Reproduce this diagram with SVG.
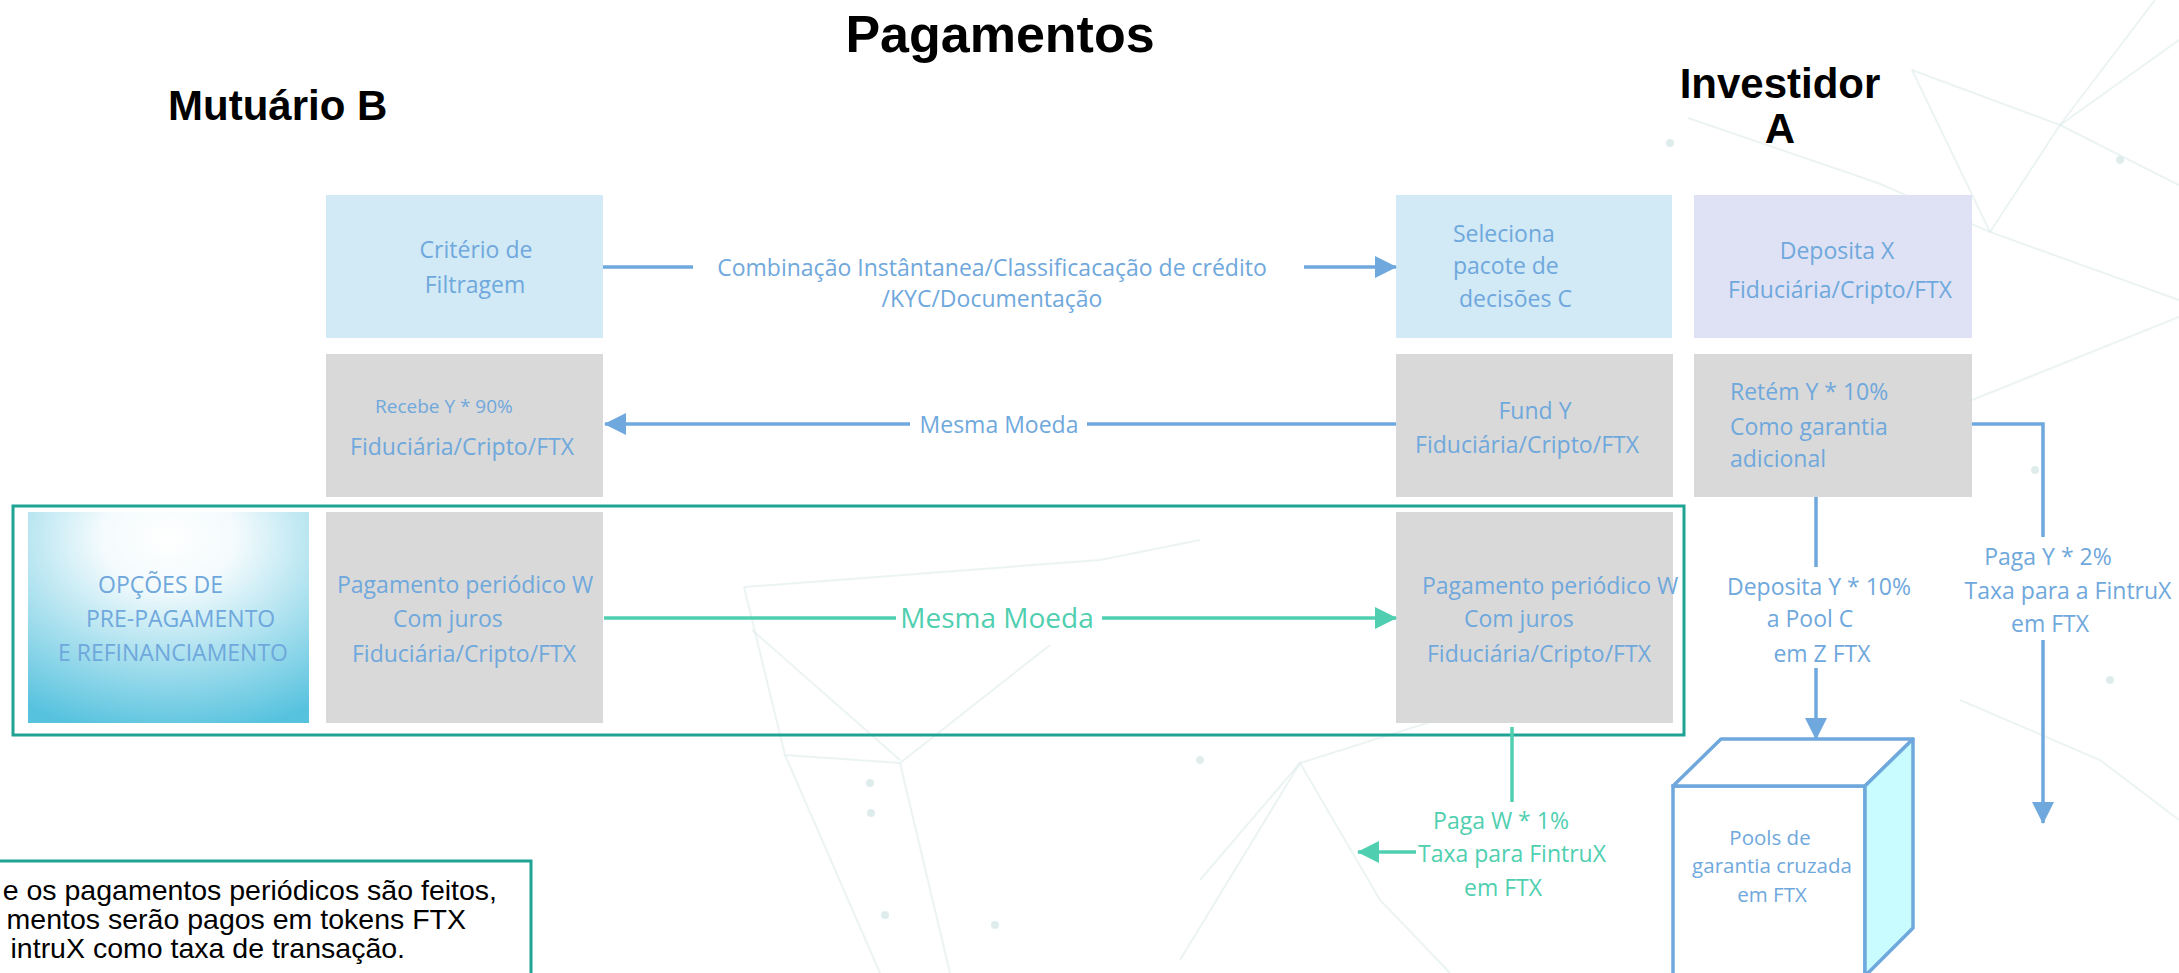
<svg xmlns="http://www.w3.org/2000/svg" width="2179" height="973" viewBox="0 0 2179 973">
<style>
  .ttl{font-family:"Liberation Sans",Arial,sans-serif;font-weight:bold;fill:#000}
  .t{font-family:"Open Sans","Noto Sans",sans-serif;font-size:23px;fill:#6FA8DC}
  .tg{font-family:"Open Sans","Noto Sans",sans-serif;font-size:23px;fill:#4FCFB0}
  .sm{font-size:19px}
  .pool{font-size:20.5px}
  .big{font-size:28px}
  .m{text-anchor:middle}
  .bl{stroke:#6FA8DC;stroke-width:3.5;fill:none}
  .tl{stroke:#4FCFB0;stroke-width:3.5;fill:none}
  .bgl{stroke:#DCEAEA;stroke-width:2;fill:none;opacity:.55}
  .dot{fill:#D2E4E4;opacity:.7}
  .lbg{fill:#FFFFFF}
  .note{font-family:"Liberation Sans",Arial,sans-serif;font-size:28.5px;fill:#000;text-anchor:end}
</style>
<defs>
  <marker id="ab" markerUnits="userSpaceOnUse" markerWidth="22" markerHeight="22" refX="21" refY="11" orient="auto">
    <path d="M0,0 L22,11 L0,22 Z" fill="#6FA8DC"/>
  </marker>
  <marker id="at" markerUnits="userSpaceOnUse" markerWidth="22" markerHeight="22" refX="21" refY="11" orient="auto">
    <path d="M0,0 L22,11 L0,22 Z" fill="#4FCFB0"/>
  </marker>
  <radialGradient id="gOp" cx="0.5" cy="0.12" r="0.95">
    <stop offset="0" stop-color="#FFFFFF"/>
    <stop offset="0.25" stop-color="#F4FBFD"/>
    <stop offset="1" stop-color="#56C2DE"/>
  </radialGradient>
</defs>
<rect width="2179" height="973" fill="#FFFFFF"/>

<g id="background">
  <polyline class="bgl" points="1912,70 2060,125 2179,185"/>
  <polyline class="bgl" points="1912,70 1990,232 2179,300"/>
  <polyline class="bgl" points="1990,232 2060,125 2155,0"/>
  <polyline class="bgl" points="2060,125 2179,40"/>
  <polyline class="bgl" points="1688,118 1878,183 1990,232"/>
  <polyline class="bgl" points="1972,400 2179,317"/>
  <polyline class="bgl" points="744,587 1100,560 1200,540"/>
  <polyline class="bgl" points="744,587 785,755 900,763 1050,645"/>
  <polyline class="bgl" points="752,630 900,760"/>
  <polyline class="bgl" points="785,755 880,973"/>
  <polyline class="bgl" points="900,763 950,973"/>
  <polyline class="bgl" points="1200,880 1300,763 1380,900 1450,973"/>
  <polyline class="bgl" points="1180,960 1300,763 1500,700"/>
  <polyline class="bgl" points="1960,700 2100,760 2179,820"/>
  <circle class="dot" cx="870" cy="783" r="4"/>
  <circle class="dot" cx="871" cy="813" r="4"/>
  <circle class="dot" cx="885" cy="915" r="4"/>
  <circle class="dot" cx="995" cy="925" r="4"/>
  <circle class="dot" cx="1670" cy="143" r="4"/>
  <circle class="dot" cx="2120" cy="160" r="4"/>
  <circle class="dot" cx="2035" cy="470" r="4"/>
  <circle class="dot" cx="2110" cy="680" r="4"/>
  <circle class="dot" cx="1200" cy="760" r="4"/>
</g>

<g id="titles">
  <text class="ttl m" x="1000" y="52" font-size="52">Pagamentos</text>
  <text class="ttl" x="168" y="120" font-size="42">Mutuário B</text>
  <text class="ttl m" x="1780" y="98" font-size="42">Investidor</text>
  <text class="ttl m" x="1780" y="143" font-size="42">A</text>
</g>

<g id="frame">
  <rect x="13" y="506" width="1671" height="229" fill="none" stroke="#1FA394" stroke-width="3"/>
</g>

<g id="node-criterio">
  <rect x="326" y="195" width="277" height="143" fill="#D2E9F6"/>
  <text class="t m" x="476" y="258">Critério de</text>
  <text class="t m" x="475" y="293">Filtragem</text>
</g>
<g id="node-recebe">
  <rect x="326" y="354" width="277" height="143" fill="#D9D9D9"/>
  <text class="t sm" x="375" y="413">Recebe Y * 90%</text>
  <text class="t m" x="462" y="455">Fiduciária/Cripto/FTX</text>
</g>
<g id="node-opcoes">
  <rect x="28" y="512" width="281" height="211" fill="url(#gOp)"/>
  <text class="t" x="98" y="593">OPÇÕES DE</text>
  <text class="t" x="86" y="627">PRE-PAGAMENTO</text>
  <text class="t" x="58" y="661">E REFINANCIAMENTO</text>
</g>
<g id="node-pag-b">
  <rect x="326" y="512" width="277" height="211" fill="#D9D9D9"/>
  <text class="t" x="337" y="593">Pagamento periódico W</text>
  <text class="t" x="393" y="627">Com juros</text>
  <text class="t" x="352" y="662">Fiduciária/Cripto/FTX</text>
</g>
<g id="node-seleciona">
  <rect x="1396" y="195" width="276" height="143" fill="#D2E9F6"/>
  <text class="t" x="1453" y="242">Seleciona</text>
  <text class="t" x="1453" y="274">pacote de</text>
  <text class="t" x="1459" y="307">decisões C</text>
</g>
<g id="node-deposita">
  <rect x="1694" y="195" width="278" height="143" fill="#DEE2F4"/>
  <text class="t m" x="1837" y="259">Deposita X</text>
  <text class="t m" x="1840" y="298">Fiduciária/Cripto/FTX</text>
</g>
<g id="node-fund">
  <rect x="1396" y="354" width="277" height="143" fill="#D9D9D9"/>
  <text class="t m" x="1535" y="419">Fund Y</text>
  <text class="t m" x="1527" y="453">Fiduciária/Cripto/FTX</text>
</g>
<g id="node-retem">
  <rect x="1694" y="354" width="278" height="143" fill="#D9D9D9"/>
  <text class="t" x="1730" y="400">Retém Y * 10%</text>
  <text class="t" x="1730" y="435">Como garantia</text>
  <text class="t" x="1730" y="467">adicional</text>
</g>
<g id="node-pag-a">
  <rect x="1396" y="512" width="277" height="211" fill="#D9D9D9"/>
  <text class="t" x="1422" y="594">Pagamento periódico W</text>
  <text class="t" x="1464" y="627">Com juros</text>
  <text class="t" x="1427" y="662">Fiduciária/Cripto/FTX</text>
</g>
<g id="node-pool">
  <rect x="1673" y="786" width="192" height="200" fill="#FFFFFF" stroke="#6FA8DC" stroke-width="3.5"/>
  <polygon points="1673,786 1721,739 1913,739 1865,786" fill="#FFFFFF" stroke="#6FA8DC" stroke-width="3.5" stroke-linejoin="round"/>
  <polygon points="1865,786 1913,739 1913,928 1865,976" fill="#C8FCFF" stroke="#6FA8DC" stroke-width="3.5" stroke-linejoin="round"/>
  <text class="t m pool" x="1770" y="845">Pools de</text>
  <text class="t m pool" x="1772" y="873">garantia cruzada</text>
  <text class="t m pool" x="1772" y="902">em FTX</text>
</g>
<g id="node-note">
  <rect x="-5" y="861" width="536" height="130" fill="#FFFFFF" stroke="#1FA394" stroke-width="3"/>
  <text class="note" x="497" y="900">e os pagamentos periódicos são feitos,</text>
  <text class="note" x="466" y="929">mentos serão pagos em tokens FTX</text>
  <text class="note" x="405" y="958">intruX como taxa de transação.</text>
</g>

<g id="connectors">
  <path class="bl" d="M603,267 H693"/>
  <path class="bl" d="M1304,267 H1396" marker-end="url(#ab)"/>
  <text class="t m" x="992" y="276">Combinação Instântanea/Classificacação de crédito</text>
  <text class="t m" x="992" y="307">/KYC/Documentação</text>

  <path class="bl" d="M1396,424 H1087"/>
  <path class="bl" d="M910,424 H605" marker-end="url(#ab)"/>
  <text class="t m" x="999" y="433">Mesma Moeda</text>

  <path class="tl" d="M604,618 H896"/>
  <path class="tl" d="M1102,618 H1396" marker-end="url(#at)"/>
  <text class="tg m big" x="997" y="628">Mesma Moeda</text>

  <path class="bl" d="M1972,424 H2043 V537"/>
  <path class="bl" d="M2043,640 V823" marker-end="url(#ab)"/>
  <rect class="lbg" x="1960" y="540" width="219" height="98"/>
  <text class="t m" x="2048" y="565">Paga Y * 2%</text>
  <text class="t m" x="2068" y="599">Taxa para a FintruX</text>
  <text class="t m" x="2050" y="632">em FTX</text>

  <path class="bl" d="M1816,497 V567"/>
  <path class="bl" d="M1816,668 V739" marker-end="url(#ab)"/>
  <rect class="lbg" x="1722" y="569" width="194" height="98"/>
  <text class="t m" x="1819" y="595">Deposita Y * 10%</text>
  <text class="t m" x="1810" y="627">a Pool C</text>
  <text class="t m" x="1822" y="662">em Z FTX</text>

  <path class="tl" d="M1512,727 V802"/>
  <path class="tl" d="M1418,852 H1358" marker-end="url(#at)"/>
  <rect class="lbg" x="1416" y="803" width="196" height="100"/>
  <text class="tg m" x="1501" y="829">Paga W * 1%</text>
  <text class="tg m" x="1512" y="862">Taxa para FintruX</text>
  <text class="tg m" x="1503" y="896">em FTX</text>
</g>
</svg>
